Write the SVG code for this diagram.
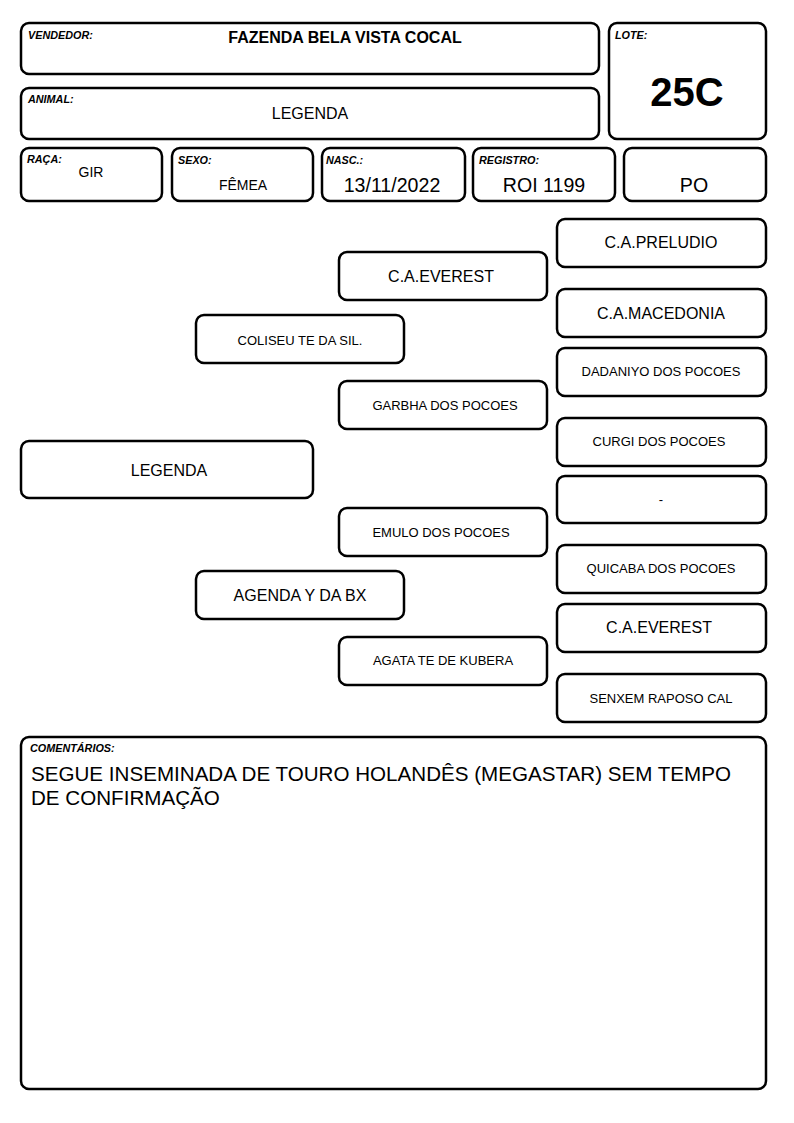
<svg xmlns="http://www.w3.org/2000/svg" width="794" height="1123" viewBox="0 0 794 1123">
<style>
rect{fill:#fff;stroke:#000;stroke-width:2.5}
text{font-family:"Liberation Sans",Arial,sans-serif;fill:#000}
.lb{font-size:10.8px;font-weight:bold;font-style:italic}
.c{text-anchor:middle}
.p16{font-size:16px}
.p13{font-size:13px}
.v{font-size:19.6px}
</style>
<rect x="0" y="0" width="794" height="1123" style="fill:#fff;stroke:none"/>
<g id="vendedor"><rect x="21" y="23" width="578" height="51" rx="8"/><text class="lb" x="28" y="39">VENDEDOR:</text><text class="c" x="345" y="43" style="font-size:16px;font-weight:bold">FAZENDA BELA VISTA COCAL</text></g>
<g id="animal"><rect x="21" y="88" width="578" height="51" rx="8"/><text class="lb" x="28" y="103">ANIMAL:</text><text class="c p16" x="310" y="119">LEGENDA</text></g>
<g id="lote"><rect x="609" y="23" width="157" height="116" rx="8"/><text class="lb" x="615" y="39">LOTE:</text><text class="c" x="687" y="106" style="font-size:40px;font-weight:bold">25C</text></g>
<g id="raca"><rect x="21" y="148" width="141" height="53" rx="8"/><text class="lb" x="27" y="163">RAÇA:</text><text class="c" x="91" y="177" style="font-size:14px">GIR</text></g>
<g id="sexo"><rect x="172" y="148" width="141" height="53" rx="8"/><text class="lb" x="178" y="164">SEXO:</text><text class="c" x="243" y="190" style="font-size:14px">FÊMEA</text></g>
<g id="nasc"><rect x="322" y="148" width="143" height="53" rx="8"/><text class="lb" x="326" y="164">NASC.:</text><text class="c v" x="392" y="192">13/11/2022</text></g>
<g id="registro"><rect x="473" y="148" width="142" height="53" rx="8"/><text class="lb" x="479" y="164">REGISTRO:</text><text class="c v" x="544" y="192">ROI 1199</text></g>
<g id="po"><rect x="624" y="148" width="142" height="53" rx="8"/><text class="c v" x="694" y="192">PO</text></g>

<g id="legenda"><rect x="21" y="441" width="292" height="57" rx="8"/><text class="c p16" x="169" y="476">LEGENDA</text></g>
<g id="coliseu"><rect x="196" y="315" width="208" height="48" rx="8"/><text class="c p13" x="300" y="345">COLISEU TE DA SIL.</text></g>
<g id="agenda"><rect x="196" y="571" width="208" height="48" rx="8"/><text class="c p16" x="300" y="601">AGENDA Y DA BX</text></g>
<g id="everest1"><rect x="339" y="252" width="208" height="48" rx="8"/><text class="c p16" x="441" y="282">C.A.EVEREST</text></g>
<g id="garbha"><rect x="339" y="381" width="208" height="48" rx="8"/><text class="c p13" x="445" y="410">GARBHA DOS POCOES</text></g>
<g id="emulo"><rect x="339" y="508" width="208" height="48" rx="8"/><text class="c p13" x="441" y="537">EMULO DOS POCOES</text></g>
<g id="agata"><rect x="339" y="637" width="208" height="48" rx="8"/><text class="c p13" x="443" y="665">AGATA TE DE KUBERA</text></g>
<g id="preludio"><rect x="557" y="219" width="209" height="48" rx="8"/><text class="c p16" x="661" y="248">C.A.PRELUDIO</text></g>
<g id="macedonia"><rect x="557" y="289" width="209" height="48" rx="8"/><text class="c p16" x="661" y="319">C.A.MACEDONIA</text></g>
<g id="dadaniyo"><rect x="557" y="348" width="209" height="48" rx="8"/><text class="c p13" x="661" y="376">DADANIYO DOS POCOES</text></g>
<g id="curgi"><rect x="557" y="418" width="209" height="48" rx="8"/><text class="c p13" x="659" y="446">CURGI DOS POCOES</text></g>
<g id="dash"><rect x="557" y="476" width="209" height="47" rx="8"/><text class="c p13" x="661" y="504">-</text></g>
<g id="quicaba"><rect x="557" y="545" width="209" height="48" rx="8"/><text class="c p13" x="661" y="573">QUICABA DOS POCOES</text></g>
<g id="everest2"><rect x="557" y="604" width="209" height="48" rx="8"/><text class="c p16" x="659" y="633">C.A.EVEREST</text></g>
<g id="senxem"><rect x="557" y="674" width="209" height="48" rx="8"/><text class="c p13" x="661" y="703">SENXEM RAPOSO CAL</text></g>
<g id="connectors"></g>

<g id="comentarios"><rect x="21" y="737" width="745" height="352" rx="8"/><text class="lb" x="30" y="752">COMENTÁRIOS:</text><text x="31" y="781" style="font-size:20.6px">SEGUE INSEMINADA DE TOURO HOLANDÊS (MEGASTAR) SEM TEMPO</text><text x="31" y="805" style="font-size:20.6px">DE CONFIRMAÇÃO</text></g>
</svg>
